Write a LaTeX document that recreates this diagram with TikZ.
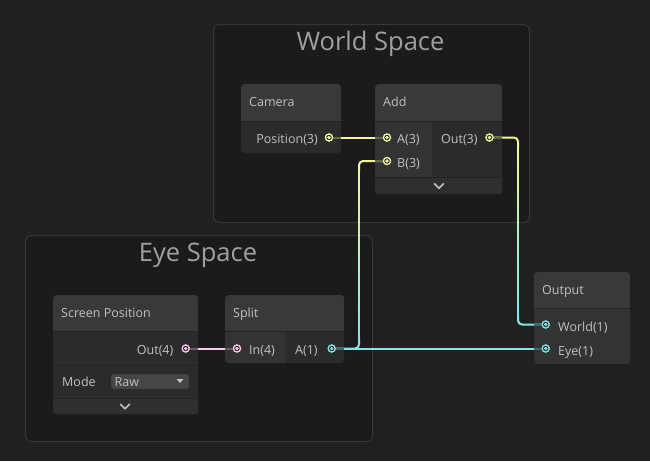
\documentclass[tikz,border=0pt]{standalone}
\usepackage{fontspec}
\setmainfont{Open Sans}
\usetikzlibrary{calc}

\definecolor{bgcol}{HTML}{202020}
\definecolor{grpfill}{HTML}{1B1B1B}
\definecolor{grpline}{HTML}{363636}
\definecolor{hdrcol}{HTML}{393939}
\definecolor{incol}{HTML}{333333}
\definecolor{outcol}{HTML}{2B2B2B}
\definecolor{footcol}{HTML}{2F2F2F}
\definecolor{sepcol}{HTML}{232323}
\definecolor{txtcol}{HTML}{C2C2C2}
\definecolor{grptxt}{HTML}{A0A0A0}
\definecolor{dropcol}{HTML}{464646}
\definecolor{vecthree}{HTML}{F2F79E}
\definecolor{vecone}{HTML}{84E4E7}
\definecolor{vecfour}{HTML}{F9C8F0}

\tikzset{
  grp/.style={draw=grpline, fill=grpfill, line width=1pt, rounded corners=6pt, anchor=north west, inner sep=0pt},
  grptitle/.style={anchor=base, inner sep=0pt, text=grptxt, font=\fontsize{25.5}{28}\selectfont},
  nodebox/.style={anchor=north west, inner sep=0pt, fill=outcol, rounded corners=4pt},
  ttl/.style={anchor=base west, inner sep=0pt, text=txtcol, font=\fontsize{12.5}{15}\selectfont},
  port/.style={circle, draw=#1, fill=sepcol, line width=1.2pt, minimum size=7pt, inner sep=0pt,
    path picture={\fill[#1] (path picture bounding box.center) circle (1.8pt);}},
  wire/.style={line width=2pt, draw=#1},
  stub/.style={line width=2pt, draw=#1!30!outcol},
  chev/.style={draw=txtcol, line width=1.5pt, line cap=round, line join=round},
  dropbox/.style={fill=dropcol, draw=sepcol, rounded corners=2pt, minimum width=78pt, minimum height=15pt, inner sep=0pt}
}

\begin{document}
\begin{tikzpicture}[x=1pt, y=-1pt]
    \useasboundingbox (0,0) rectangle (650,461);
    \fill[bgcol] (0,0) rectangle (650,461);

    % Groups
    \node[grp, minimum width=316pt, minimum height=198pt] (worldGrp) at (213,24) {};
    \node[grptitle] (worldTtl) at (370.5,50) {World Space};
    \node[grp, minimum width=347pt, minimum height=206pt] (eyeGrp) at (25,235) {};
    \node[grptitle] (eyeTtl) at (198,261) {Eye Space};

    % Camera node
    \node[nodebox, minimum width=100pt, minimum height=69pt] (camera) at (241,84) {};
    \begin{scope}
        \clip[rounded corners=4pt] (camera.north west) rectangle (camera.south east);
        \fill[hdrcol] (241,84) rectangle (341,121);
        \draw[sepcol] (241,121) -- (341,121);
    \end{scope}
    \node[ttl] (camTtl) at (249,106) {Camera};
    \node[ttl, anchor=base east] (camPosLbl) at (318,143) {Position(3)};

    % Add node
    \node[nodebox, minimum width=127pt, minimum height=110pt] (add) at (375,84) {};
    \begin{scope}
        \clip[rounded corners=4pt] (add.north west) rectangle (add.south east);
        \fill[hdrcol] (375,84) rectangle (502,121);
        \fill[incol] (375,121) rectangle (432,177);
        \fill[footcol] (375,177) rectangle (502,194);
        \draw[sepcol] (375,121) -- (502,121);
        \draw[sepcol] (375,177) -- (502,177);
    \end{scope}
    \node[ttl] (addTtl) at (383,106) {Add};
    \node[ttl] (addALbl) at (397,143) {A(3)};
    \node[ttl] (addBLbl) at (397,167) {B(3)};
    \node[ttl] (addOutLbl) at (441,143) {Out(3)};
    \coordinate (addChev) at (439,186);
    \draw[chev] ($(addChev)+(-4.5,-2.3)$) -- ($(addChev)+(0,2.3)$) -- ($(addChev)+(4.5,-2.3)$);

    % Screen Position node
    \node[nodebox, minimum width=145pt, minimum height=119pt] (screenPos) at (53,295) {};
    \begin{scope}
        \clip[rounded corners=4pt] (screenPos.north west) rectangle (screenPos.south east);
        \fill[hdrcol] (53,295) rectangle (198,331);
        \fill[footcol] (53,398) rectangle (198,414);
        \draw[sepcol] (53,331) -- (198,331);
        \draw[sepcol] (53,365) -- (198,365);
        \draw[sepcol] (53,398) -- (198,398);
    \end{scope}
    \node[ttl] (spTtl) at (61,317) {Screen Position};
    \node[ttl, anchor=base east] (spOutLbl) at (173.5,354) {Out(4)};
    \node[ttl] (modeLbl) at (62,386) {Mode};
    \node[dropbox] (modeBox) at (150,381.5) {};
    \node[ttl] (modeVal) at (114.5,386) {Raw};
    \fill[txtcol] (176.5,379) -- (183.5,379) -- (180,383) -- cycle;
    \coordinate (spChev) at (125,406.5);
    \draw[chev] ($(spChev)+(-4.5,-2.3)$) -- ($(spChev)+(0,2.3)$) -- ($(spChev)+(4.5,-2.3)$);

    % Split node
    \node[nodebox, minimum width=119pt, minimum height=68pt] (split) at (225,295) {};
    \begin{scope}
        \clip[rounded corners=4pt] (split.north west) rectangle (split.south east);
        \fill[hdrcol] (225,295) rectangle (344,331);
        \fill[incol] (225,331) rectangle (286,363);
        \draw[sepcol] (225,331) -- (344,331);
    \end{scope}
    \node[ttl] (splitTtl) at (233,317) {Split};
    \node[ttl] (splitInLbl) at (249,354) {In(4)};
    \node[ttl] (splitALbl) at (295,354) {A(1)};

    % Output node
    \node[nodebox, minimum width=96pt, minimum height=92pt] (output) at (534,272) {};
    \begin{scope}
        \clip[rounded corners=4pt] (output.north west) rectangle (output.south east);
        \fill[hdrcol] (534,272) rectangle (630,308);
        \fill[incol] (534,308) rectangle (630,364);
        \draw[sepcol] (534,308) -- (630,308);
    \end{scope}
    \node[ttl] (outTtl) at (542,294.5) {Output};
    \node[ttl] (outWorldLbl) at (558,331.5) {World(1)};
    \node[ttl] (outEyeLbl) at (558,355.5) {Eye(1)};

    % Ports
    \node[port=vecthree] (camPos) at (329,137.5) {};
    \node[port=vecthree] (addA) at (387,137.5) {};
    \node[port=vecthree] (addB) at (387,161) {};
    \node[port=vecthree] (addOut) at (489.5,137.5) {};
    \node[port=vecfour] (spOut) at (185.7,348.5) {};
    \node[port=vecfour] (splitIn) at (237,348.5) {};
    \node[port=vecone] (splitA) at (331.7,348.5) {};
    \node[port=vecone] (outWorld) at (545.7,324.5) {};
    \node[port=vecone] (outEye) at (545.7,348.5) {};

    % Wires
    \draw[wire=vecthree] (camPos) -- (addA);
    \draw[wire=vecfour] (spOut) -- (splitIn);
    \draw[wire=vecone] (splitA) -- (outEye);

    % Out(3) -> World(1), yellow to cyan
    \coordinate (bendR) at (518,0);
    \coordinate (r1) at ($(bendR |- addOut)+(0,10)$);
    \coordinate (r2) at ($(bendR |- outWorld)+(0,-10)$);
    \draw[wire=vecthree, rounded corners=4pt] (addOut) -- (bendR |- addOut) -- (r1);
    \foreach \i in {0,...,23} {
        \pgfmathtruncatemacro\mixv{100*(\i+0.5)/24}
        \draw[line width=2pt, line cap=rect, draw=vecone!\mixv!vecthree] ($(r1)!{\i/24}!(r2)$) -- ($(r1)!{(\i+1)/24}!(r2)$);
    }
    \draw[wire=vecone, rounded corners=4pt] (r2) -- (bendR |- outWorld) -- (outWorld);

    % A(1) -> B(3), cyan to yellow
    \coordinate (bendL) at (359,0);
    \coordinate (l1) at ($(bendL |- splitA)+(0,-10)$);
    \coordinate (l2) at ($(bendL |- addB)+(0,10)$);
    \draw[wire=vecone, rounded corners=4pt] (splitA) -- (bendL |- splitA) -- (l1);
    \foreach \i in {0,...,23} {
        \pgfmathtruncatemacro\mixv{100*(\i+0.5)/24}
        \draw[line width=2pt, line cap=rect, draw=vecthree!\mixv!vecone] ($(l1)!{\i/24}!(l2)$) -- ($(l1)!{(\i+1)/24}!(l2)$);
    }
    \draw[wire=vecthree, rounded corners=4pt] (l2) -- (bendL |- addB) -- (addB);

    % Stubs inside the nodes
    \draw[stub=vecthree] (camPos) -- (camPos -| camera.east);
    \draw[stub=vecthree] (addA) -- (addA -| add.west);
    \draw[stub=vecthree] (addB) -- (addB -| add.west);
    \draw[stub=vecthree] (addOut) -- (addOut -| add.east);
    \draw[stub=vecfour] (spOut) -- (spOut -| screenPos.east);
    \draw[stub=vecfour] (splitIn) -- (splitIn -| split.west);
    \draw[stub=vecone] (splitA) -- (splitA -| split.east);
    \draw[stub=vecone] (outWorld) -- (outWorld -| output.west);
    \draw[stub=vecone] (outEye) -- (outEye -| output.west);

    % Port rings on top
    \foreach \p/\c in {camPos/vecthree, addA/vecthree, addB/vecthree, addOut/vecthree,
                       spOut/vecfour, splitIn/vecfour, splitA/vecone, outWorld/vecone, outEye/vecone} {
        \node[port=\c] at (\p) {};
    }
\end{tikzpicture}
\end{document}
